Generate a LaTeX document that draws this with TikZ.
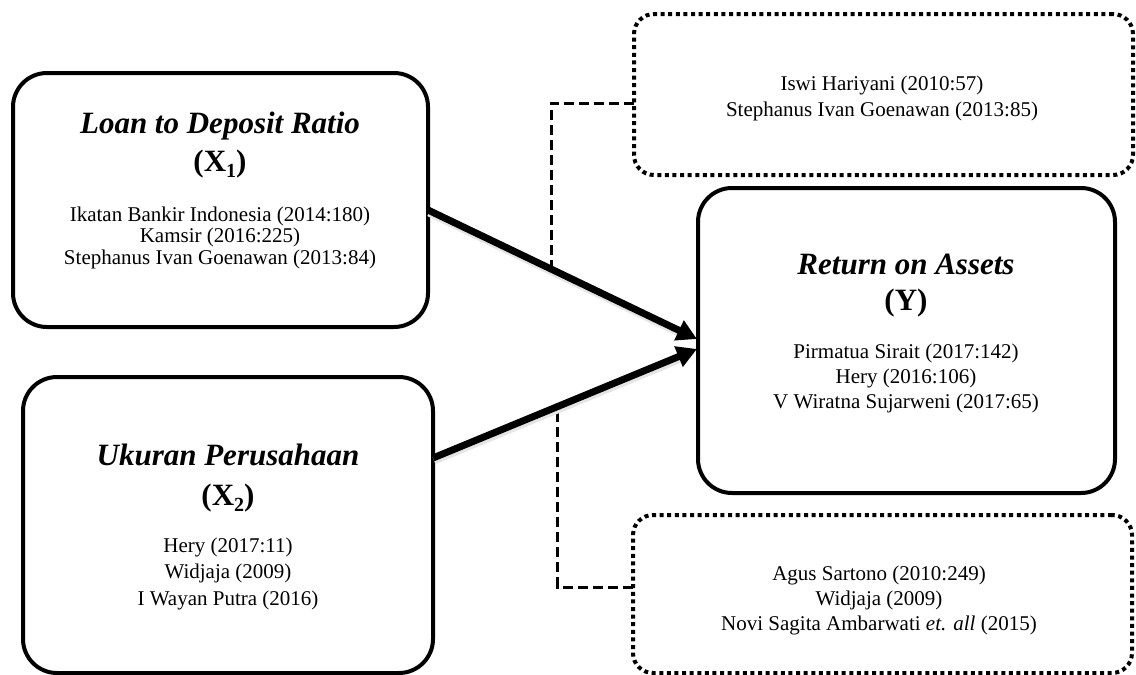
\documentclass[tikz,border=0pt]{standalone}
\usepackage{fontspec}
\setmainfont{Liberation Serif}
\usetikzlibrary{arrows.meta,calc}
\tikzset{
  solidbox/.style={draw=black, line width=4pt, rounded corners=34pt, inner sep=0pt, outer sep=0pt},
  dotbox/.style={draw=black, line width=4pt, dash pattern=on 4pt off 3.6pt, rounded corners=20pt, inner sep=0pt, outer sep=0pt},
  ttl/.style={font=\fontsize{31}{37}\selectfont\bfseries\itshape, inner sep=0pt, anchor=base},
  varlbl/.style={font=\fontsize{31}{37}\selectfont\bfseries, inner sep=0pt, anchor=base},
  refs/.style={font=\fontsize{21}{#1}\selectfont, inner sep=0pt, anchor=base},
  bigarrow/.style={line width=7pt, -{Triangle[length=20pt,width=21pt]}},
  arrowshadow/.style={line width=8pt, draw=black!10},
  link/.style={line width=3pt, dash pattern=on 10pt off 5pt}
}
\newcommand{\sbs}[1]{\raisebox{-0.22em}{\fontsize{20}{20}\selectfont #1}}
\begin{document}
\begin{tikzpicture}[x=1pt,y=-1pt]
\useasboundingbox (0,0) rectangle (1136,675);

% boxes
\node[solidbox, minimum width=415pt, minimum height=254pt] (x1) at (220.5,200) {};
\node[solidbox, minimum width=410pt, minimum height=296pt] (x2) at (228,525) {};
\node[solidbox, minimum width=417pt, minimum height=305pt] (y) at (906.5,340.5) {};
\node[dotbox, minimum width=499pt, minimum height=161pt] (d1) at (883.5,94.5) {};
\node[dotbox, minimum width=499pt, minimum height=158pt] (d2) at (882.5,594) {};

% texts X1
\node[ttl] (x1t) at (220,133) {Loan to Deposit Ratio};
\node[varlbl] (x1v) at (220,171) {(X\sbs{1})};
\node[refs=21.5] (x1r) at (220,221) {\begin{tabular}[t]{@{}c@{}}Ikatan Bankir Indonesia (2014:180)\\Kamsir (2016:225)\\Stephanus Ivan Goenawan (2013:84)\end{tabular}};

% texts X2
\node[ttl] (x2t) at (228,465) {Ukuran Perusahaan};
\node[varlbl] (x2v) at (228,505) {(X\sbs{2})};
\node[refs=26.5] (x2r) at (228,552) {\begin{tabular}[t]{@{}c@{}}Hery (2017:11)\\Widjaja (2009)\\I Wayan Putra (2016)\end{tabular}};

% texts Y
\node[ttl] (yt) at (906,274) {Return on Assets};
\node[varlbl] (yv) at (906,310) {(Y)};
\node[refs=25] (yr) at (906,358) {\begin{tabular}[t]{@{}c@{}}Pirmatua Sirait (2017:142)\\Hery (2016:106)\\V Wiratna Sujarweni (2017:65)\end{tabular}};

% dotted boxes texts
\node[refs=26] (d1r) at (882,90) {\begin{tabular}[t]{@{}c@{}}Iswi Hariyani (2010:57)\\Stephanus Ivan Goenawan (2013:85)\end{tabular}};
\node[refs=25] (d2r) at (879,580) {\begin{tabular}[t]{@{}c@{}}Agus Sartono (2010:249)\\Widjaja (2009)\\Novi Sagita Ambarwati \textit{et. all} (2015)\end{tabular}};

% arrow end points
\coordinate (a1s) at ([yshift=-10pt]x1.east);
\coordinate (a1e) at ([shift={(-1pt,1.5pt)}]y.west);
\coordinate (a2s) at ([yshift=67pt]x2.east);
\coordinate (a2e) at ([shift={(-1pt,-8.5pt)}]y.west);
\coordinate (m1) at ($(a1s)!0.458!(a1e)$);
\coordinate (m2) at ($(a2s)!0.473!(a2e)$);
\coordinate (s1s) at ($(a1s)+(1pt,-2.5pt)$);
\coordinate (s1e) at ($(a1e)!20pt!(a1s)+(1pt,-2.5pt)$);
\coordinate (s2s) at ($(a2s)+(1pt,-2.5pt)$);
\coordinate (s2e) at ($(a2e)!20pt!(a2s)+(1pt,-2.5pt)$);

% dashed links
\draw[link] ([yshift=-8.5pt]d1.west) -| (m1);
\draw[link] ([yshift=7pt]d2.west) -| (m2);

% arrow shadows
\draw[arrowshadow] (s1s) -- (s1e);
\draw[arrowshadow] (s2s) -- (s2e);

% arrows
\draw[bigarrow] (a1s) -- (a1e);
\draw[bigarrow] (a2s) -- (a2e);
\end{tikzpicture}
\end{document}
